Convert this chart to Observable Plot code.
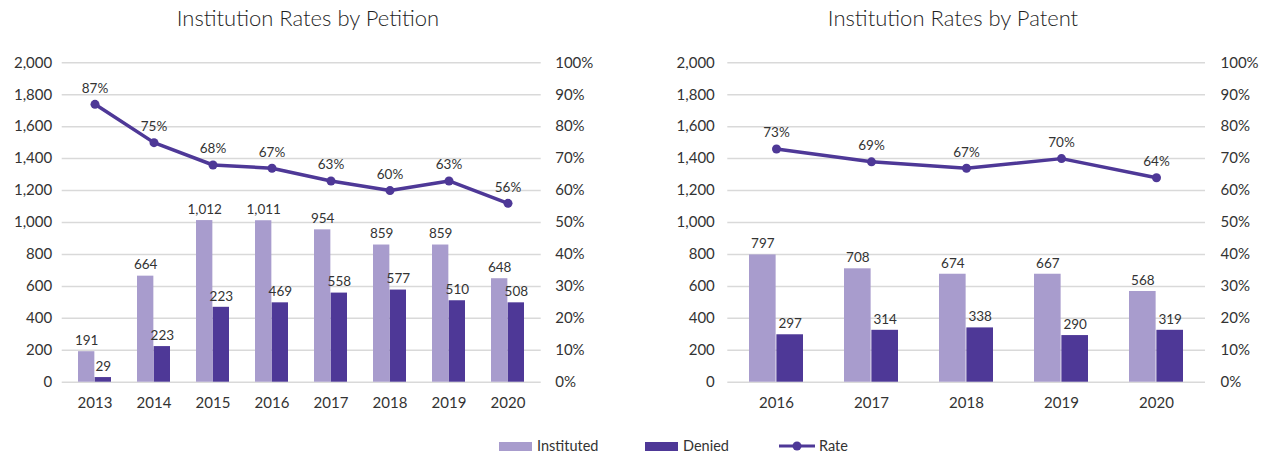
<!DOCTYPE html>
<html>
<head>
<meta charset="utf-8">
<script src="https://cdn.jsdelivr.net/npm/d3@7"></script>
<script src="https://cdn.jsdelivr.net/npm/@observablehq/plot@0.6"></script>
<style>
  body { margin: 0; background: #fff; font-family: Lato, "Open Sans", sans-serif; }
  #wrap { position: relative; width: 1264px; height: 454px; overflow: hidden; }
  .title { position: absolute; top: 4px; font-size: 22px; font-weight: 300; color: #1f1f1f; transform: translateX(-50%); white-space: nowrap; }
  .panel { position: absolute; top: 40px; }
  .lg-sw { position: absolute; }
  .lg-tx { position: absolute; font-size: 14.5px; color: #333; top: 437px; line-height: 18px; }
</style>
</head>
<body>
<div id="wrap">
  <div class="title" style="left:308px">Institution Rates by Petition</div>
  <div class="title" style="left:953px">Institution Rates by Patent</div>
  <div class="panel" id="p1" style="left:0px"></div>
  <div class="panel" id="p2" style="left:632px"></div>
  <div id="legend"></div>
</div>
<script>
// ---- Data ----
const petitionYears = ["2013", "2014", "2015", "2016", "2017", "2018", "2019", "2020"];
const petitionInstituted = [191, 664, 1012, 1011, 954, 859, 859, 648];
const petitionDeniedBars = [29, 223, 469, 497, 558, 577, 510, 497];   // bar heights as drawn
const petitionDeniedLabels = [29, 223, 223, 469, 558, 577, 510, 508]; // labels as printed
const petitionRate = [87, 75, 68, 67, 63, 60, 63, 56];

const patentYears = ["2016", "2017", "2018", "2019", "2020"];
const patentInstitutedBars = [797, 710, 676, 676, 568];
const patentInstitutedLabels = [797, 708, 674, 667, 568];
const patentDeniedBars = [297, 325, 340, 292, 325];
const patentDeniedLabels = [297, 314, 338, 290, 319];
const patentRate = [73, 69, 67, 70, 64];

const leftTicks = [0, 200, 400, 600, 800, 1000, 1200, 1400, 1600, 1800, 2000];
const seriesNames = ["Instituted", "Denied", "Rate"];

const C_INST = "#a89ccd";
const C_DEN = "#4e3897";
const C_GRID = "#d9d9d9";
const C_TEXT = "#333333";

function panel(years, instB, instL, denB, denL, rate, opt) {
  const data = years.map((y, i) => ({
    year: y, inst: instB[i], instLabel: instL[i], den: denB[i], denLabel: denL[i], rate: rate[i]
  }));
  const W = opt.width, ml = opt.ml, mr = opt.mr;
  const step = (W - ml - mr) / years.length;
  const bw = step * (1 - opt.pad);
  const rateY = d => d.rate * 20; // 0–100% shares the 0–2,000 axis
  return Plot.plot({
    width: W,
    height: 380,
    marginLeft: ml,
    marginRight: mr,
    marginTop: 22.3,
    marginBottom: 38.3,
    style: { fontFamily: "Lato, 'Open Sans', sans-serif", fontSize: "15px", color: C_TEXT, background: "transparent" },
    x: { type: "band", domain: years, paddingInner: opt.pad, paddingOuter: opt.pad / 2, label: null },
    y: { domain: [0, 2000], nice: false, label: null },
    marks: [
      Plot.gridY(leftTicks, { stroke: C_GRID, strokeOpacity: 1, strokeWidth: 1.5 }),
      Plot.barY(data, { x: "year", y: "inst", fill: C_INST, insetRight: bw / 2 }),
      Plot.barY(data, { x: "year", y: "den", fill: C_DEN, insetLeft: bw / 2 }),
      Plot.text(data, { x: "year", y: "inst", text: d => d3.format(",")(d.instLabel), dx: -bw / 4, dy: -11, fontSize: 13.5, fill: C_TEXT }),
      Plot.text(data, { x: "year", y: "den", text: d => d3.format(",")(d.denLabel), dx: bw / 4, dy: -11, fontSize: 13.5, fill: C_TEXT }),
      Plot.line(data, { x: "year", y: rateY, stroke: C_DEN, strokeWidth: 3.5 }),
      Plot.dot(data, { x: "year", y: rateY, r: 4.5, fill: C_DEN, stroke: "none" }),
      Plot.text(data, { x: "year", y: rateY, text: d => d.rate + "%", dy: -16, fontSize: 13.5, fill: C_TEXT }),
      Plot.axisY(leftTicks, { anchor: "left", tickSize: 0, tickPadding: opt.lpad, tickFormat: d3.format(","), label: null }),
      Plot.axisY(leftTicks, { anchor: "right", tickSize: 0, tickPadding: opt.rpad, tickFormat: d => (d / 20) + "%", label: null }),
      Plot.axisX({ tickSize: 0, tickPadding: 15, label: null })
    ]
  });
}

document.getElementById("p1").append(
  panel(petitionYears, petitionInstituted, petitionInstituted, petitionDeniedBars, petitionDeniedLabels, petitionRate,
        { width: 632, ml: 61.7, mr: 91.3, pad: 0.444, lpad: 10, rpad: 14 })
);
document.getElementById("p2").append(
  panel(patentYears, patentInstitutedBars, patentInstitutedLabels, patentDeniedBars, patentDeniedLabels, patentRate,
        { width: 632, ml: 95.3, mr: 59, pad: 0.427, lpad: 13, rpad: 15 })
);

// ---- Legend ----
const lg = document.getElementById("legend");
const lgPos = [
  { sw: 499, tx: 537, kind: "box", color: C_INST },
  { sw: 645, tx: 683, kind: "box", color: C_DEN },
  { sw: 779, tx: 819, kind: "line", color: C_DEN }
];
seriesNames.forEach((name, i) => {
  const p = lgPos[i];
  if (p.kind === "box") {
    const s = document.createElement("div");
    s.className = "lg-sw";
    s.style.cssText = `left:${p.sw}px;top:442px;width:33px;height:9px;background:${p.color}`;
    lg.append(s);
  } else {
    const s = document.createElementNS("http://www.w3.org/2000/svg", "svg");
    s.setAttribute("width", 38); s.setAttribute("height", 12);
    s.style.cssText = `position:absolute;left:${p.sw}px;top:440px`;
    s.innerHTML = `<line x1="0" y1="6" x2="36" y2="6" stroke="${p.color}" stroke-width="3"/><circle cx="18" cy="6" r="4.5" fill="${p.color}"/>`;
    lg.append(s);
  }
  const t = document.createElement("div");
  t.className = "lg-tx";
  t.style.left = p.tx + "px";
  t.textContent = name;
  lg.append(t);
});
</script>
</body>
</html>
